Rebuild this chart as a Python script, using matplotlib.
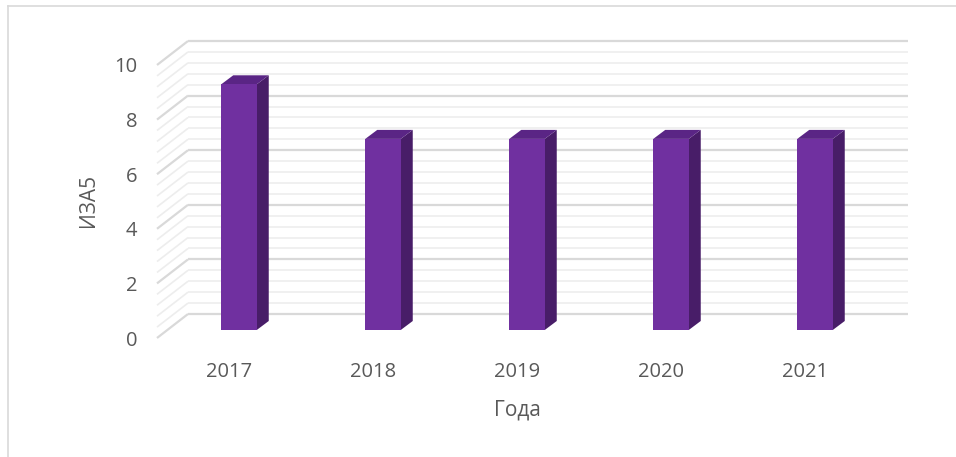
import numpy as np
import matplotlib
matplotlib.use("Agg")
import matplotlib.pyplot as plt
from matplotlib.lines import Line2D

years = ["2017", "2018", "2019", "2020", "2021"]
values = [9, 7, 7, 7, 7]
y_ticks = [0, 2, 4, 6, 8, 10]

W, H = 956, 457
plt.rcParams["font.family"] = ["Open Sans", "DejaVu Sans"]
text_color = "#595959"

fig = plt.figure(figsize=(W / 100, H / 100), dpi=100)
# axes = the front plane of the pseudo-3D box
left, right, bottom, top = 157, 877, 338, 65
ax = fig.add_axes([left / W, 1 - bottom / H, (right - left) / W, (bottom - top) / H])
ax.set_xlim(-0.5, 4.5)
ax.set_ylim(0, 10)

px_x = (right - left) / 5.0       # pixels per category
px_y = (bottom - top) / 10.0      # pixels per unit

# depth of the box (back wall offset)
dx = 31 / px_x
dy = 24 / px_y

# back wall + side wall grid
for v in np.arange(0, 10.001, 0.4):
    major = abs(v / 2 - round(v / 2)) < 1e-6
    col = "#d9d9d9" if major else "#ededed"
    lw = 1.6 if major else 1.2
    ax.plot([-0.5 + dx, 4.5 + dx], [v + dy, v + dy], color=col, lw=lw,
            clip_on=False, zorder=1, solid_capstyle="butt")
    ax.plot([-0.5, -0.5 + dx], [v, v + dy], color=col, lw=lw,
            clip_on=False, zorder=1, solid_capstyle="butt")

# bars
x = np.arange(len(years))
bx = 10 / px_x          # bars sit a bit inside the box
by = 8 / px_y
bw = 35.5 / px_x
ddx = 12 / px_x         # bar depth
ddy = 9 / px_y
front_c = "#7030a0"
side_c = "#481d68"
top_c = "#5a2585"
for xi, v in zip(x, values):
    x0 = xi + bx - bw / 2
    x1 = xi + bx + bw / 2
    y0 = by
    y1 = v + by
    ax.fill([x1, x1 + ddx, x1 + ddx, x1], [y0, y0 + ddy, y1 + ddy, y1],
            color=side_c, lw=0, zorder=3, clip_on=False)
    ax.fill([x0, x1, x1 + ddx, x0 + ddx], [y1, y1, y1 + ddy, y1 + ddy],
            color=top_c, lw=0, zorder=3, clip_on=False)
ax.bar(x + bx, values, width=bw, bottom=by, color=front_c, zorder=4)

for s in ax.spines.values():
    s.set_visible(False)
ax.set_xticks(x)
ax.set_xticklabels(years)
ax.set_yticks(y_ticks)
ax.set_yticklabels([str(t) for t in y_ticks])
ax.tick_params(axis="both", length=0, labelsize=14.5, colors=text_color)
ax.tick_params(axis="y", pad=14)
ax.tick_params(axis="x", pad=17)
ax.patch.set_alpha(0)

fig.text(88 / W, 1 - 200 / H, "ИЗА5", rotation=90, ha="center", va="center",
         fontsize=15, color=text_color)
fig.text(517 / W, 1 - 410 / H, "Года", ha="center", va="center",
         fontsize=15, color=text_color)

# chart-area border (top and left visible)
fig.add_artist(Line2D([8 / W, 1], [1 - 6 / H, 1 - 6 / H], color="#d9d9d9", lw=1.2,
                      transform=fig.transFigure))
fig.add_artist(Line2D([8 / W, 8 / W], [0, 1 - 6 / H], color="#d9d9d9", lw=1.2,
                      transform=fig.transFigure))

fig.savefig("out.png", dpi=100)
